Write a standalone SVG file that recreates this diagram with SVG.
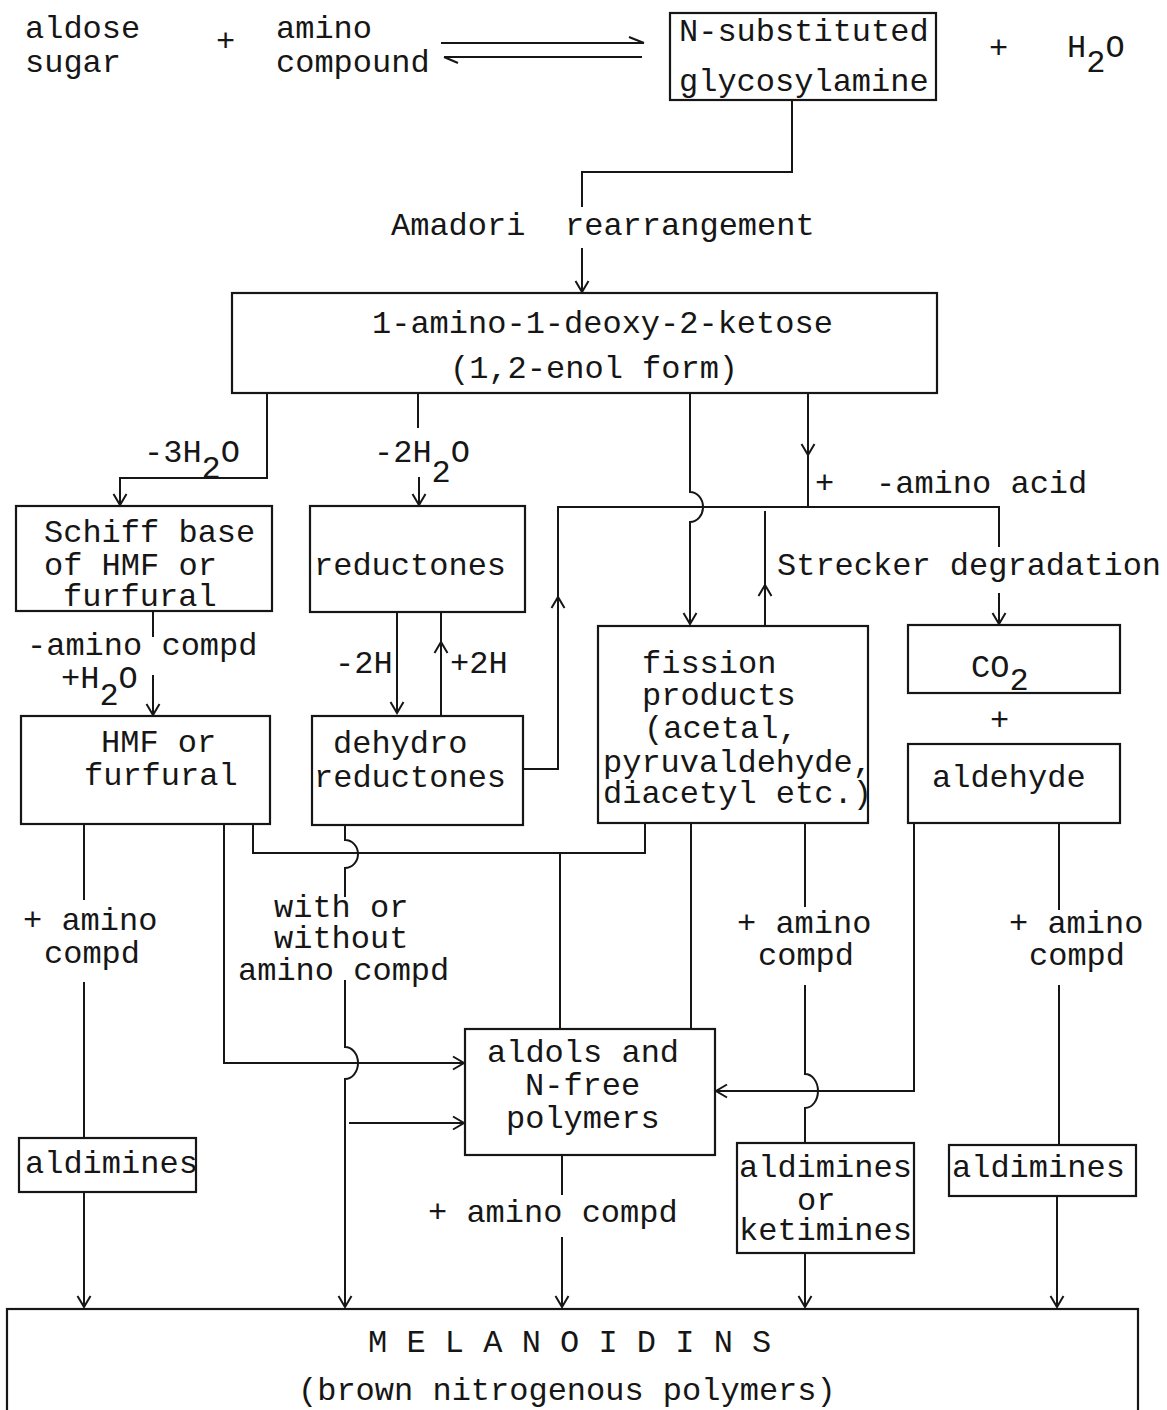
<svg xmlns="http://www.w3.org/2000/svg" width="1167" height="1410" viewBox="0 0 1167 1410">
<style>
.t{font-family:"Liberation Mono","Courier New",monospace;font-size:32px;fill:#161616}
.b{fill:none;stroke:#161616;stroke-width:2.2}
.c{fill:none;stroke:#161616;stroke-width:2}
</style>
<defs>
<marker id="ah" viewBox="-13 -8 15 16" markerWidth="15" markerHeight="16" refX="0" refY="0" orient="auto" markerUnits="userSpaceOnUse">
<path d="M-11,-6.5 L0,0 L-11,6.5" fill="none" stroke="#161616" stroke-width="2"/>
</marker>
</defs>
<rect width="1167" height="1410" fill="#fff"/>

<g id="aldose"><text class="t" x="25" y="38">aldose</text><text class="t" x="25" y="72">sugar</text></g>
<text class="t" x="216" y="51">+</text>
<g id="amino"><text class="t" x="276" y="38">amino</text><text class="t" x="276" y="72">compound</text></g>
<g id="glyco"><rect class="b" x="670" y="13" width="266" height="87"/><text class="t" x="679" y="41">N-substituted</text><text class="t" x="679" y="91">glycosylamine</text></g>
<text class="t" x="989" y="58">+</text>
<g id="water"><text class="t" x="1067" y="57">H<tspan dy="15">2</tspan><tspan dy="-15">O</tspan></text></g>

<g id="ketose"><rect class="b" x="232" y="293" width="705" height="100"/><text class="t" x="372" y="333">1-amino-1-deoxy-2-ketose</text><text class="t" x="450" y="378">(1,2-enol form)</text></g>
<g id="schiff"><rect class="b" x="16" y="506" width="256" height="105"/><text class="t" x="44" y="542">Schiff base</text><text class="t" x="44" y="575">of HMF or</text><text class="t" x="63" y="606">furfural</text></g>
<g id="reductones"><rect class="b" x="310" y="506" width="215" height="106"/><text class="t" x="314" y="575">reductones</text></g>
<g id="hmf"><rect class="b" x="21" y="716" width="249" height="108"/><text class="t" x="101" y="752">HMF or</text><text class="t" x="84" y="785">furfural</text></g>
<g id="dehydro"><rect class="b" x="312" y="716" width="211" height="109"/><text class="t" x="333" y="753">dehydro</text><text class="t" x="314" y="787">reductones</text></g>
<g id="fission"><rect class="b" x="598" y="626" width="270" height="197"/><text class="t" x="642" y="673">fission</text><text class="t" x="642" y="705">products</text><text class="t" x="644" y="738">(acetal,</text><text class="t" x="603" y="772">pyruvaldehyde,</text><text class="t" x="603" y="803">diacetyl etc.)</text></g>
<g id="co2"><rect class="b" x="908" y="625" width="212" height="68"/><text class="t" x="971" y="677">CO<tspan dy="13">2</tspan></text></g>
<text class="t" x="990" y="730">+</text>
<g id="aldehyde"><rect class="b" x="908" y="744" width="212" height="79"/><text class="t" x="932" y="787">aldehyde</text></g>
<g id="aldols"><rect class="b" x="465" y="1029" width="250" height="126"/><text class="t" x="487" y="1062">aldols and</text><text class="t" x="525" y="1095">N-free</text><text class="t" x="506" y="1128">polymers</text></g>
<g id="aldimines1"><rect class="b" x="19" y="1138" width="177" height="54"/><text class="t" x="25" y="1173">aldimines</text></g>
<g id="aldimines2"><rect class="b" x="737" y="1143" width="177" height="110"/><text class="t" x="739" y="1177">aldimines</text><text class="t" x="797" y="1210">or</text><text class="t" x="739" y="1240">ketimines</text></g>
<g id="aldimines3"><rect class="b" x="949" y="1145" width="187" height="51"/><text class="t" x="952" y="1177">aldimines</text></g>
<g id="melanoidins"><rect class="b" x="7" y="1309" width="1131" height="115"/><text class="t" x="368" y="1352">M E L A N O I D I N S</text><text class="t" x="298" y="1400">(brown nitrogenous polymers)</text></g>

<g id="labels">
<text class="t" x="391" y="235">Amadori</text><text class="t" x="565" y="235">rearrangement</text>
<text class="t" x="144" y="462">-3H<tspan dy="16">2</tspan><tspan dy="-16">O</tspan></text>
<text class="t" x="374" y="462">-2H<tspan dy="20">2</tspan><tspan dy="-20">O</tspan></text>
<text class="t" x="815" y="493">+</text><text class="t" x="876" y="493">-amino acid</text>
<text class="t" x="777" y="575">Strecker degradation</text>
<text class="t" x="27" y="655">-amino compd</text>
<text class="t" x="61" y="688">+H<tspan dy="17">2</tspan><tspan dy="-17">O</tspan></text>
<text class="t" x="335" y="673">-2H</text><text class="t" x="450" y="673">+2H</text>
<text class="t" x="23" y="930">+ amino</text><text class="t" x="44" y="963">compd</text>
<text class="t" x="274" y="917">with or</text><text class="t" x="274" y="948">without</text><text class="t" x="238" y="980">amino compd</text>
<text class="t" x="737" y="933">+ amino</text><text class="t" x="758" y="965">compd</text>
<text class="t" x="1009" y="933">+ amino</text><text class="t" x="1029" y="965">compd</text>
<text class="t" x="428" y="1222">+ amino compd</text>
</g>

<g id="connectors">
<path class="c" d="M441,43 H644 M629,37 L644,43"/>
<path class="c" d="M444,57 H642 M444,57 L458,63"/>
<path class="c" d="M792,100 V172 H582 V207"/>
<path class="c" d="M582,248 V292" marker-end="url(#ah)"/>
<path class="c" d="M267,393 V478 H120 V505" marker-end="url(#ah)"/>
<path class="c" d="M418,393 V428"/>
<path class="c" d="M419,477 V505" marker-end="url(#ah)"/>
<path class="c" d="M690,393 V492 A13,15 0 0 1 690,522 V624" marker-end="url(#ah)"/>
<path class="c" d="M808,393 V455" marker-end="url(#ah)"/>
<path class="c" d="M808,455 V507"/>
<path class="c" d="M523,769 H558 V597" marker-end="url(#ah)"/>
<path class="c" d="M558,597 V507 H999 V547"/>
<path class="c" d="M999,593 V624" marker-end="url(#ah)"/>
<path class="c" d="M765,626 V585" marker-end="url(#ah)"/>
<path class="c" d="M765,585 V511"/>
<path class="c" d="M153,612 V637"/>
<path class="c" d="M153,675 V715" marker-end="url(#ah)"/>
<path class="c" d="M397,612 V713" marker-end="url(#ah)"/>
<path class="c" d="M441,716 V642" marker-end="url(#ah)"/>
<path class="c" d="M441,642 V612"/>
<path class="c" d="M84,825 V900 M84,982 V1138"/>
<path class="c" d="M84,1192 V1307" marker-end="url(#ah)"/>
<path class="c" d="M224,824 V1063 H464" marker-end="url(#ah)"/>
<path class="c" d="M253,824 V853 H645 V823"/>
<path class="c" d="M560,853 V1029"/>
<path class="c" d="M691,823 V1029"/>
<path class="c" d="M345,825 V840 A13,14 0 0 1 345,868 V897"/>
<path class="c" d="M345,980 V1047 A13,16 0 0 1 345,1079 V1307" marker-end="url(#ah)"/>
<path class="c" d="M349,1123 H464" marker-end="url(#ah)"/>
<path class="c" d="M805,823 V907 M805,985 V1074 A13,17 0 0 1 805,1108 V1143"/>
<path class="c" d="M914,823 V1091 H716" marker-end="url(#ah)"/>
<path class="c" d="M1059,823 V910 M1059,985 V1145"/>
<path class="c" d="M562,1155 V1195 M562,1237 V1307" marker-end="url(#ah)"/>
<path class="c" d="M805,1253 V1307" marker-end="url(#ah)"/>
<path class="c" d="M1057,1196 V1307" marker-end="url(#ah)"/>
</g>
</svg>
